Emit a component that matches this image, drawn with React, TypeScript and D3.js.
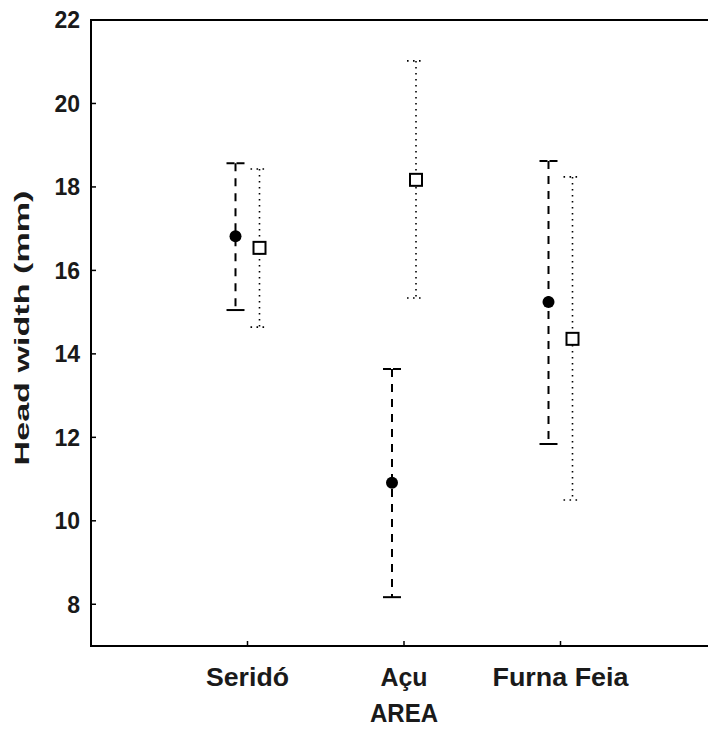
import React from "react";
import * as d3 from "d3";

const categories = ["Seridó", "Açu", "Furna Feia"];
const categoryWidths = [83, 47, 136];
const circleMean = [16.82, 10.91, 15.24];
const circleLow = [15.05, 8.17, 11.84];
const circleHigh = [18.57, 13.64, 18.62];
const squareMean = [16.54, 18.17, 14.36];
const squareLow = [14.64, 15.34, 10.5];
const squareHigh = [18.43, 21.02, 18.24];
const yTicks = [8, 10, 12, 14, 16, 18, 20, 22];

const W = 708;
const H = 731;
const left = 91;
const top = 20;
const bottom = 646;
const right = 717;
const FONT = "'Liberation Sans', Arial, sans-serif";
const TXT = "#1a1a1a";

export default function App() {
  const y = d3.scaleLinear().domain([7, 22]).range([bottom, top]);
  const x = d3.scaleLinear().domain([0, 4]).range([left, right]);
  const off = 12;
  const capW = 9;

  return (
    <svg width={W} height={H} style={{ position: "absolute", left: 0, top: 0, background: "#fff" }}>
      <rect x={0} y={0} width={W} height={H} fill="#fff" />
      {/* frame */}
      <path d={`M${right},${top}H${left}V${bottom}H${right}`} fill="none" stroke="#000" strokeWidth={2} />
      {/* y ticks */}
      {yTicks.map((t) => (
        <g key={t}>
          <line x1={left} x2={left + 5} y1={y(t)} y2={y(t)} stroke="#000" strokeWidth={1.5} />
          <text x={left - 11} y={y(t)} dy="0.36em" textAnchor="end" fontFamily={FONT} fontWeight="bold" fontSize={23} fill={TXT}>
            {t}
          </text>
        </g>
      ))}
      {/* x ticks */}
      {categories.map((c, i) => (
        <g key={c}>
          <line x1={x(i + 1)} x2={x(i + 1)} y1={bottom} y2={bottom - 5} stroke="#000" strokeWidth={1.5} />
          <text x={x(i + 1)} y={686} textAnchor="middle" fontFamily={FONT} fontWeight="bold" fontSize={26} fill={TXT}
            textLength={categoryWidths[i]} lengthAdjust="spacingAndGlyphs">
            {c}
          </text>
        </g>
      ))}
      <text x={x(2)} y={722} textAnchor="middle" fontFamily={FONT} fontWeight="bold" fontSize={25} fill={TXT}
        textLength={68} lengthAdjust="spacingAndGlyphs">
        AREA
      </text>
      <text transform={`translate(29,328) rotate(-90)`} textAnchor="middle" fontFamily={FONT} fontWeight="bold" fontSize={20} fill={TXT}
        textLength={275} lengthAdjust="spacingAndGlyphs">
        Head width (mm)
      </text>
      {/* circle series: dashed */}
      {categories.map((c, i) => {
        const cx = x(i + 1) - off;
        return (
          <g key={"c" + c}>
            <line x1={cx} x2={cx} y1={y(circleHigh[i])} y2={y(circleLow[i])} stroke="#000" strokeWidth={2} strokeDasharray="8,7" />
            <line x1={cx - capW} x2={cx + capW} y1={y(circleHigh[i])} y2={y(circleHigh[i])} stroke="#000" strokeWidth={2} strokeDasharray="8,2" />
            <line x1={cx - capW} x2={cx + capW} y1={y(circleLow[i])} y2={y(circleLow[i])} stroke="#000" strokeWidth={2} />
            <circle cx={cx} cy={y(circleMean[i])} r={6} fill="#000" />
          </g>
        );
      })}
      {/* square series: dotted */}
      {categories.map((c, i) => {
        const cx = x(i + 1) + off;
        return (
          <g key={"s" + c}>
            <line x1={cx} x2={cx} y1={y(squareHigh[i])} y2={y(squareLow[i])} stroke="#000" strokeWidth={1.6} strokeDasharray="1.6,4.4" />
            <line x1={cx - capW} x2={cx + capW} y1={y(squareHigh[i])} y2={y(squareHigh[i])} stroke="#000" strokeWidth={1.6} strokeDasharray="1.6,4.4" />
            <line x1={cx - capW} x2={cx + capW} y1={y(squareLow[i])} y2={y(squareLow[i])} stroke="#000" strokeWidth={1.6} strokeDasharray="1.6,4.4" />
            <rect x={cx - 6} y={y(squareMean[i]) - 6} width={12} height={12} fill="#fff" stroke="#000" strokeWidth={2} />
          </g>
        );
      })}
    </svg>
  );
}
